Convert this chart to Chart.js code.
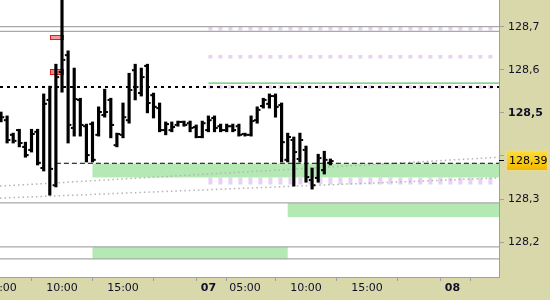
<!DOCTYPE html>
<html><head><meta charset="utf-8">
<script src="https://cdn.jsdelivr.net/npm/chart.js@4.4.1/dist/chart.umd.min.js"></script>
<style>
html,body{margin:0;padding:0;background:#d9d8aa;}
#wrap{position:relative;width:550px;height:300px;}
canvas{display:block;}
</style></head><body>
<div id="wrap"><canvas id="c" width="550" height="300"></canvas></div>
<script>
// ---- data (30-minute bars, slot index) ----
const barSlots = [0,1,2,3,4,5,6,7,8,9,10,11,12,13,14,15,16,17,18,19,20,21,22,23,24,25,26,27,28,29,30,31,32,33,34,35,36,37,38,39,40,41,42,43,44,45,46,47,48,49,50,51,52,53,54];
const opens  = [128.483,128.483,128.449,128.460,128.421,128.414,128.456,128.372,128.530,128.332,128.595,128.634,128.465,128.530,128.469,128.474,128.449,128.495,128.530,128.425,128.449,128.483,128.599,128.546,128.609,128.541,128.511,128.460,128.460,128.472,128.479,128.476,128.467,128.444,128.460,128.488,128.469,128.460,128.469,128.469,128.451,128.449,128.483,128.516,128.521,128.539,128.518,128.391,128.437,128.393,128.414,128.344,128.349,128.367,128.384];
const highs  = [128.502,128.493,128.453,128.462,128.432,128.462,128.462,128.544,128.562,128.613,128.800,128.644,128.604,128.534,128.474,128.479,128.514,128.555,128.534,128.453,128.523,128.592,128.613,128.604,128.613,128.546,128.523,128.479,128.479,128.481,128.481,128.481,128.472,128.481,128.493,128.493,128.474,128.474,128.474,128.474,128.453,128.493,128.514,128.534,128.544,128.544,128.523,128.453,128.444,128.453,128.423,128.372,128.404,128.411,128.393];
const lows   = [128.479,128.430,128.430,128.421,128.397,128.409,128.379,128.365,128.309,128.328,128.548,128.430,128.446,128.446,128.386,128.386,128.446,128.490,128.442,128.421,128.442,128.476,128.530,128.539,128.500,128.488,128.456,128.449,128.456,128.469,128.469,128.456,128.442,128.442,128.456,128.456,128.456,128.456,128.456,128.446,128.446,128.446,128.476,128.511,128.511,128.490,128.386,128.386,128.330,128.386,128.339,128.323,128.339,128.358,128.379];
const closes = [128.490,128.437,128.435,128.430,128.402,128.451,128.384,128.521,128.370,128.583,128.623,128.472,128.532,128.472,128.402,128.391,128.502,128.502,128.472,128.451,128.490,128.553,128.560,128.583,128.523,128.514,128.460,128.474,128.467,128.479,128.472,128.465,128.444,128.476,128.483,128.465,128.460,128.469,128.460,128.449,128.449,128.481,128.507,128.530,128.539,128.514,128.432,128.444,128.409,128.437,128.351,128.332,128.395,128.391,128.388];

const xTickValues = [0,10,20,30,34,40,50,60,70,74,80];
const xTickLabels = ['05:00','10:00','15:00','','07','05:00','10:00','15:00','','08',''];
const dayLabels   = ['07','08'];
const yTickValues = [128.2,128.3,128.4,128.5,128.6,128.7];
const yTickLabels = ['128,2','128,3','','128,5','128,6','128,7'];
const boldPrice   = 128.5;

const lastPrice = 128.39;
const lastPriceLabel = '128,39';
const currentLine = {from: 9, level: 128.383};
const grayLevels = [128.700, 128.689, 128.291, 128.189, 128.161];
const blackDotted = 128.560;
const greenLine = {from: 34, level: 128.569};
const purpleThin = [128.695, 128.630, 128.560];
const purpleThick = 128.342;
const purpleRange = [34, 80.6];
const trendA = [128.330, 128.397];
const trendB = [128.302, 128.349];
const greenZones = [
  {from: 15, to: null, top: 128.382, bottom: 128.350},
  {from: 47, to: null, top: 128.291, bottom: 128.258},
  {from: 15, to: 47,   top: 128.189, bottom: 128.161}
];
const redMarkers = [
  {from: 8.05, to: 10.15, top: 128.680, bottom: 128.671, fill: 'rgba(240,120,120,0.75)'},
  {from: 8.05, to: 10.15, top: 128.602, bottom: 128.590, fill: 'rgba(236,100,100,0.8)'}
];
const X_MIN = -0.164, X_MAX = 81.64;
const Y_MIN = 128.119, Y_MAX = 128.762;

// ---- helpers ----
function hline(x1, x2, v, style) {
  return Object.assign({type:'line', data:[{x:x1,y:v},{x:x2,y:v}], pointRadius:0, fill:false,
    tension:0, order:2, borderColor:'#aaa', borderWidth:1}, style);
}
function sline(x1, x2, v1, v2, style) {
  return Object.assign({type:'line', data:[{x:x1,y:v1},{x:x2,y:v2}], pointRadius:0, fill:false,
    tension:0, order:2, borderColor:'#aaa', borderWidth:1}, style);
}

const datasets = [];
datasets.push({type:'bar', data: barSlots.map((s,i)=>({x:s, y:[lows[i], highs[i]]})),
  backgroundColor:'#000', borderWidth:0, barThickness:2.5, grouped:false, order:0});
grayLevels.forEach(v => datasets.push(hline(X_MIN, X_MAX, v, {borderColor:'#a9a9a9', borderWidth:1.3})));
datasets.push(sline(X_MIN, X_MAX, trendA[0], trendA[1], {borderColor:'#b4b4b4', borderWidth:1.5, borderDash:[1.5,3]}));
datasets.push(sline(X_MIN, X_MAX, trendB[0], trendB[1], {borderColor:'#b4b4b4', borderWidth:1.5, borderDash:[1.5,3]}));
purpleThin.forEach(v => datasets.push(hline(purpleRange[0], purpleRange[1], v, {borderColor:'#e6d2f3', borderWidth:3.5, borderDash:[4,6], order:3})));
datasets.push(hline(purpleRange[0], purpleRange[1], purpleThick, {borderColor:'#e6d2f3', borderWidth:7, borderDash:[4,6], order:3}));
datasets.push(hline(greenLine.from, X_MAX, greenLine.level, {borderColor:'#66c266', borderWidth:1.3}));
datasets.push(hline(X_MIN, X_MAX, blackDotted, {borderColor:'#000', borderWidth:2, borderDash:[3,4], order:1}));
datasets.push(hline(currentLine.from, X_MAX, currentLine.level, {borderColor:'#000', borderWidth:1, borderDash:[5,3], order:1}));

const chartPlugin = {
  id: 'extras',
  beforeDraw(chart) {
    const {ctx, chartArea:a} = chart;
    ctx.save();
    ctx.fillStyle = '#d9d8aa'; ctx.fillRect(0, 0, chart.width, chart.height);
    ctx.fillStyle = '#ffffff'; ctx.fillRect(a.left, a.top, a.right - a.left, a.bottom - a.top);
    ctx.restore();
  },
  beforeDatasetsDraw(chart) {
    const {ctx, chartArea:a, scales:{x, y}} = chart;
    ctx.save();
    ctx.beginPath(); ctx.rect(a.left, a.top, a.right - a.left, a.bottom - a.top); ctx.clip();
    ctx.fillStyle = '#b5e9b3';
    greenZones.forEach(z => {
      const x1 = x.getPixelForValue(z.from), x2 = x.getPixelForValue(z.to === null ? X_MAX : z.to);
      const y1 = y.getPixelForValue(z.top), y2 = y.getPixelForValue(z.bottom);
      ctx.fillRect(x1, y1, x2 - x1, y2 - y1);
    });
    redMarkers.forEach(m => {
      const x1 = Math.round(x.getPixelForValue(m.from)) + 0.5, x2 = Math.round(x.getPixelForValue(m.to)) + 0.5;
      const y1 = Math.round(y.getPixelForValue(m.top)) + 0.5, y2 = Math.round(y.getPixelForValue(m.bottom)) + 0.5;
      ctx.fillStyle = m.fill; ctx.fillRect(x1, y1, x2 - x1, y2 - y1);
      ctx.strokeStyle = '#e51b1b'; ctx.lineWidth = 1; ctx.strokeRect(x1, y1, x2 - x1, y2 - y1);
    });
    ctx.restore();
  },
  afterDatasetsDraw(chart) {
    const {ctx, chartArea:a, scales:{x, y}} = chart;
    ctx.save();
    ctx.beginPath(); ctx.rect(a.left, a.top, a.right - a.left, a.bottom - a.top); ctx.clip();
    ctx.fillStyle = '#000';
    barSlots.forEach((s, i) => {
      const xp = x.getPixelForValue(s);
      const yo = y.getPixelForValue(opens[i]), yc = y.getPixelForValue(closes[i]);
      ctx.fillRect(xp - 3.25, yo - 1, 2, 2);
      ctx.fillRect(xp + 1.25, yc - 1, 2, 2);
    });
    ctx.restore();
  },
  afterDraw(chart) {
    const {ctx, scales:{y}} = chart;
    const yp = Math.round(y.getPixelForValue(lastPrice));
    const left = y.left + 7, w = 42, h = 21, top = yp - 10;
    ctx.save();
    ctx.strokeStyle = '#000'; ctx.lineWidth = 1;
    ctx.beginPath(); ctx.moveTo(y.left, yp + 0.5); ctx.lineTo(y.left + 5, yp + 0.5); ctx.stroke();
    const g = ctx.createLinearGradient(0, top, 0, top + h);
    g.addColorStop(0, '#ffe03a'); g.addColorStop(1, '#f1b700');
    ctx.fillStyle = '#eadb94'; ctx.fillRect(left, top, w, h);
    ctx.fillStyle = g; ctx.fillRect(left + 1, top + 1, w - 2, h - 2);
    ctx.fillStyle = '#000'; ctx.font = '11px "DejaVu Sans"';
    ctx.textBaseline = 'middle'; ctx.textAlign = 'left';
    ctx.fillText(lastPriceLabel, left + 3, yp + 1);
    ctx.restore();
  }
};

new Chart(document.getElementById('c'), {
  type: 'bar',
  data: {datasets},
  options: {
    responsive: false, animation: false,
    layout: {padding: 0},
    plugins: {legend: {display: false}, tooltip: {enabled: false}},
    scales: {
      x: {
        type: 'linear', position: 'bottom', min: X_MIN, max: X_MAX, offset: false,
        afterBuildTicks: s => { s.ticks = xTickValues.map(v => ({value: v})); },
        afterFit: s => { s.height = 23; s.paddingLeft = 0; s.paddingRight = 0; },
        grid: {drawOnChartArea: false, drawTicks: true, tickLength: 4, color: '#a0a0a0'},
        border: {display: true, color: '#a0a0a0', width: 1},
        ticks: {
          autoSkip: false, maxRotation: 0, minRotation: 0, padding: 1, color: '#10102a',
          callback: (v, i) => xTickLabels[i],
          font: c => ({family: 'DejaVu Sans', size: 11, weight: dayLabels.includes(xTickLabels[c.index]) ? 'bold' : 'normal'})
        }
      },
      y: {
        type: 'linear', position: 'right', min: Y_MIN, max: Y_MAX,
        afterBuildTicks: s => { s.ticks = yTickValues.map(v => ({value: v})); },
        afterFit: s => { s.width = 51; s.paddingTop = 0; s.paddingBottom = 0; },
        grid: {drawOnChartArea: false, drawTicks: true, tickLength: 5, color: '#a0a0a0'},
        border: {display: true, color: '#a0a0a0', width: 1},
        ticks: {
          padding: 4, color: '#10102a',
          callback: (v, i) => yTickLabels[i],
          font: c => ({family: 'DejaVu Sans', size: 11, weight: (yTickValues[c.index] === boldPrice) ? 'bold' : 'normal'})
        }
      }
    }
  },
  plugins: [chartPlugin]
});
</script>
</body></html>
